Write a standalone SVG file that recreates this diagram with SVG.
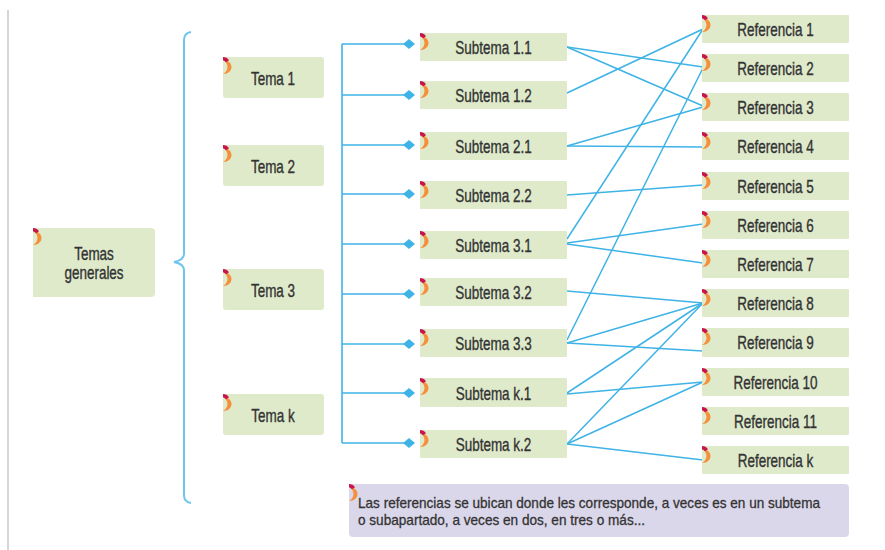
<svg xmlns="http://www.w3.org/2000/svg" xmlns:xlink="http://www.w3.org/1999/xlink" width="885" height="550" viewBox="0 0 885 550">
<style>
.box{fill:#dfeacb}
.note{fill:#dbd7eb}
.t{font-family:"Liberation Sans",Arial,sans-serif;font-size:18px;fill:#333333;stroke:#333333;stroke-width:0.35;text-anchor:middle}
.n{font-family:"Liberation Sans",Arial,sans-serif;font-size:14.5px;fill:#333333;stroke:#333333;stroke-width:0.3}
.ln{stroke:#3fb3e6;stroke-width:1.5;fill:none}
.tree{stroke:#3fb3e6;stroke-width:1.6;fill:none}
</style>
<defs>
<g id="mk">
<path d="M0,3 C5.5,3 8.5,6.5 8.5,10 C8.5,13.5 5.5,17 0,17 C3.2,15 4.5,12.5 4.5,10 C4.5,7.5 3.2,5 0,3 Z" fill="#f58f3b"/>
<path d="M0,0 C2.5,0 4.5,1.2 6,3.2 L3,5.2 C2,4 1,3.5 0,3.2 Z" fill="#c8134b"/>
</g>
<path id="dia" d="M0,0 L6,-5 L12,0 L6,5 Z" fill="#3fb3e6"/>
</defs>
<rect width="885" height="550" fill="#ffffff"/>
<line x1="8" y1="10" x2="8" y2="550" stroke="#c8c8c8" stroke-width="1.5"/>
<path d="M191,32 Q184,33 184,40 L184,254 Q184,260 174,262 Q184,264 184,270 L184,495 Q184,502 191,503" fill="none" stroke="#6ec6ef" stroke-width="2"/>
<g id="connectors">
<path class="tree" d="M342,44 L342,443"/>
<g>
<line class="tree" x1="342" y1="44" x2="404" y2="44"/>
<line class="tree" x1="342" y1="95" x2="404" y2="95"/>
<line class="tree" x1="342" y1="145" x2="404" y2="145"/>
<line class="tree" x1="342" y1="194" x2="404" y2="194"/>
<line class="tree" x1="342" y1="244" x2="404" y2="244"/>
<line class="tree" x1="342" y1="294" x2="404" y2="294"/>
<line class="tree" x1="342" y1="344" x2="404" y2="344"/>
<line class="tree" x1="342" y1="393" x2="404" y2="393"/>
<line class="tree" x1="342" y1="443" x2="404" y2="443"/>
<use xlink:href="#dia" x="403" y="44"/>
<use xlink:href="#dia" x="403" y="95"/>
<use xlink:href="#dia" x="403" y="145"/>
<use xlink:href="#dia" x="403" y="194"/>
<use xlink:href="#dia" x="403" y="244"/>
<use xlink:href="#dia" x="403" y="294"/>
<use xlink:href="#dia" x="403" y="344"/>
<use xlink:href="#dia" x="403" y="393"/>
<use xlink:href="#dia" x="403" y="443"/>
</g>
<line class="ln" x1="567" y1="47" x2="703" y2="67"/>
<line class="ln" x1="567" y1="47" x2="703" y2="106"/>
<line class="ln" x1="567" y1="93" x2="703" y2="29"/>
<line class="ln" x1="567" y1="146" x2="703" y2="107"/>
<line class="ln" x1="567" y1="146" x2="703" y2="147"/>
<line class="ln" x1="567" y1="195" x2="703" y2="185"/>
<line class="ln" x1="567" y1="239" x2="703" y2="29"/>
<line class="ln" x1="567" y1="243" x2="703" y2="224"/>
<line class="ln" x1="567" y1="244" x2="703" y2="263"/>
<line class="ln" x1="567" y1="291" x2="703" y2="303"/>
<line class="ln" x1="567" y1="340" x2="703" y2="68"/>
<line class="ln" x1="567" y1="343" x2="703" y2="303"/>
<line class="ln" x1="567" y1="343" x2="703" y2="351"/>
<line class="ln" x1="567" y1="393" x2="703" y2="303"/>
<line class="ln" x1="567" y1="394" x2="703" y2="382"/>
<line class="ln" x1="567" y1="444" x2="703" y2="303"/>
<line class="ln" x1="567" y1="444" x2="703" y2="382"/>
<line class="ln" x1="567" y1="444" x2="703" y2="460"/>
</g>
<g id="temas-generales">
<path class="box" d="M33,228 H151 Q155,228 155,232 V293 Q155,297 151,297 H33 Z"/>
<use xlink:href="#mk" x="33" y="228"/>
<text class="t" transform="translate(94,260) scale(.75,1)">Temas</text>
<text class="t" transform="translate(94,279) scale(.75,1)">generales</text>
</g>
<g id="tema-1"><rect class="box" x="223" y="57" width="101" height="41" rx="3"/><use xlink:href="#mk" x="223" y="57"/><text class="t" transform="translate(273,85) scale(.75,1)">Tema 1</text></g>
<g id="tema-2"><rect class="box" x="223" y="145" width="101" height="41" rx="3"/><use xlink:href="#mk" x="223" y="145"/><text class="t" transform="translate(273,173) scale(.75,1)">Tema 2</text></g>
<g id="tema-3"><rect class="box" x="223" y="269" width="101" height="41" rx="3"/><use xlink:href="#mk" x="223" y="269"/><text class="t" transform="translate(273,297) scale(.75,1)">Tema 3</text></g>
<g id="tema-k"><rect class="box" x="223" y="394" width="101" height="41" rx="3"/><use xlink:href="#mk" x="223" y="394"/><text class="t" transform="translate(273,422) scale(.75,1)">Tema k</text></g>
<g id="subtema-1-1"><rect class="box" x="420" y="33" width="147" height="28" rx="1"/><use xlink:href="#mk" x="420" y="33"/><text class="t" transform="translate(493.5,54) scale(.75,1)">Subtema 1.1</text></g>
<g id="subtema-1-2"><rect class="box" x="420" y="81" width="147" height="28" rx="1"/><use xlink:href="#mk" x="420" y="81"/><text class="t" transform="translate(493.5,102) scale(.75,1)">Subtema 1.2</text></g>
<g id="subtema-2-1"><rect class="box" x="420" y="132" width="147" height="28" rx="1"/><use xlink:href="#mk" x="420" y="132"/><text class="t" transform="translate(493.5,153) scale(.75,1)">Subtema 2.1</text></g>
<g id="subtema-2-2"><rect class="box" x="420" y="181" width="147" height="28" rx="1"/><use xlink:href="#mk" x="420" y="181"/><text class="t" transform="translate(493.5,202) scale(.75,1)">Subtema 2.2</text></g>
<g id="subtema-3-1"><rect class="box" x="420" y="231" width="147" height="28" rx="1"/><use xlink:href="#mk" x="420" y="231"/><text class="t" transform="translate(493.5,252) scale(.75,1)">Subtema 3.1</text></g>
<g id="subtema-3-2"><rect class="box" x="420" y="278" width="147" height="28" rx="1"/><use xlink:href="#mk" x="420" y="278"/><text class="t" transform="translate(493.5,299) scale(.75,1)">Subtema 3.2</text></g>
<g id="subtema-3-3"><rect class="box" x="420" y="329" width="147" height="28" rx="1"/><use xlink:href="#mk" x="420" y="329"/><text class="t" transform="translate(493.5,350) scale(.75,1)">Subtema 3.3</text></g>
<g id="subtema-k-1"><rect class="box" x="420" y="378" width="147" height="29" rx="1"/><use xlink:href="#mk" x="420" y="378"/><text class="t" transform="translate(493.5,400) scale(.75,1)">Subtema k.1</text></g>
<g id="subtema-k-2"><rect class="box" x="420" y="430" width="147" height="28" rx="1"/><use xlink:href="#mk" x="420" y="430"/><text class="t" transform="translate(493.5,451) scale(.75,1)">Subtema k.2</text></g>
<g id="referencia-1"><rect class="box" x="702" y="15" width="147" height="28" rx="1"/><use xlink:href="#mk" x="702" y="15"/><text class="t" transform="translate(775.5,35.5) scale(.75,1)">Referencia 1</text></g>
<g id="referencia-2"><rect class="box" x="702" y="54" width="147" height="28" rx="1"/><use xlink:href="#mk" x="702" y="54"/><text class="t" transform="translate(775.5,74.5) scale(.75,1)">Referencia 2</text></g>
<g id="referencia-3"><rect class="box" x="702" y="93" width="147" height="28" rx="1"/><use xlink:href="#mk" x="702" y="93"/><text class="t" transform="translate(775.5,113.5) scale(.75,1)">Referencia 3</text></g>
<g id="referencia-4"><rect class="box" x="702" y="132" width="147" height="28" rx="1"/><use xlink:href="#mk" x="702" y="132"/><text class="t" transform="translate(775.5,152.5) scale(.75,1)">Referencia 4</text></g>
<g id="referencia-5"><rect class="box" x="702" y="172" width="147" height="28" rx="1"/><use xlink:href="#mk" x="702" y="172"/><text class="t" transform="translate(775.5,192.5) scale(.75,1)">Referencia 5</text></g>
<g id="referencia-6"><rect class="box" x="702" y="211" width="147" height="28" rx="1"/><use xlink:href="#mk" x="702" y="211"/><text class="t" transform="translate(775.5,231.5) scale(.75,1)">Referencia 6</text></g>
<g id="referencia-7"><rect class="box" x="702" y="250" width="147" height="28" rx="1"/><use xlink:href="#mk" x="702" y="250"/><text class="t" transform="translate(775.5,270.5) scale(.75,1)">Referencia 7</text></g>
<g id="referencia-8"><rect class="box" x="702" y="289" width="147" height="28" rx="1"/><use xlink:href="#mk" x="702" y="289"/><text class="t" transform="translate(775.5,309.5) scale(.75,1)">Referencia 8</text></g>
<g id="referencia-9"><rect class="box" x="702" y="328" width="147" height="29" rx="1"/><use xlink:href="#mk" x="702" y="328"/><text class="t" transform="translate(775.5,348.5) scale(.75,1)">Referencia 9</text></g>
<g id="referencia-10"><rect class="box" x="702" y="368" width="147" height="28" rx="1"/><use xlink:href="#mk" x="702" y="368"/><text class="t" transform="translate(775.5,388.5) scale(.75,1)">Referencia 10</text></g>
<g id="referencia-11"><rect class="box" x="702" y="407" width="147" height="28" rx="1"/><use xlink:href="#mk" x="702" y="407"/><text class="t" transform="translate(775.5,427.5) scale(.75,1)">Referencia 11</text></g>
<g id="referencia-k"><rect class="box" x="702" y="446" width="147" height="28" rx="1"/><use xlink:href="#mk" x="702" y="446"/><text class="t" transform="translate(775.5,466.5) scale(.75,1)">Referencia k</text></g>
<g id="nota">
<rect class="note" x="349" y="484" width="500" height="53" rx="4"/>
<use xlink:href="#mk" x="349" y="484"/>
<text class="n" x="358" y="508" textLength="462" lengthAdjust="spacingAndGlyphs">Las referencias se ubican donde les corresponde, a veces es en un subtema</text>
<text class="n" x="358" y="525" textLength="287" lengthAdjust="spacingAndGlyphs">o subapartado, a veces en dos, en tres o más...</text>
</g>
</svg>
